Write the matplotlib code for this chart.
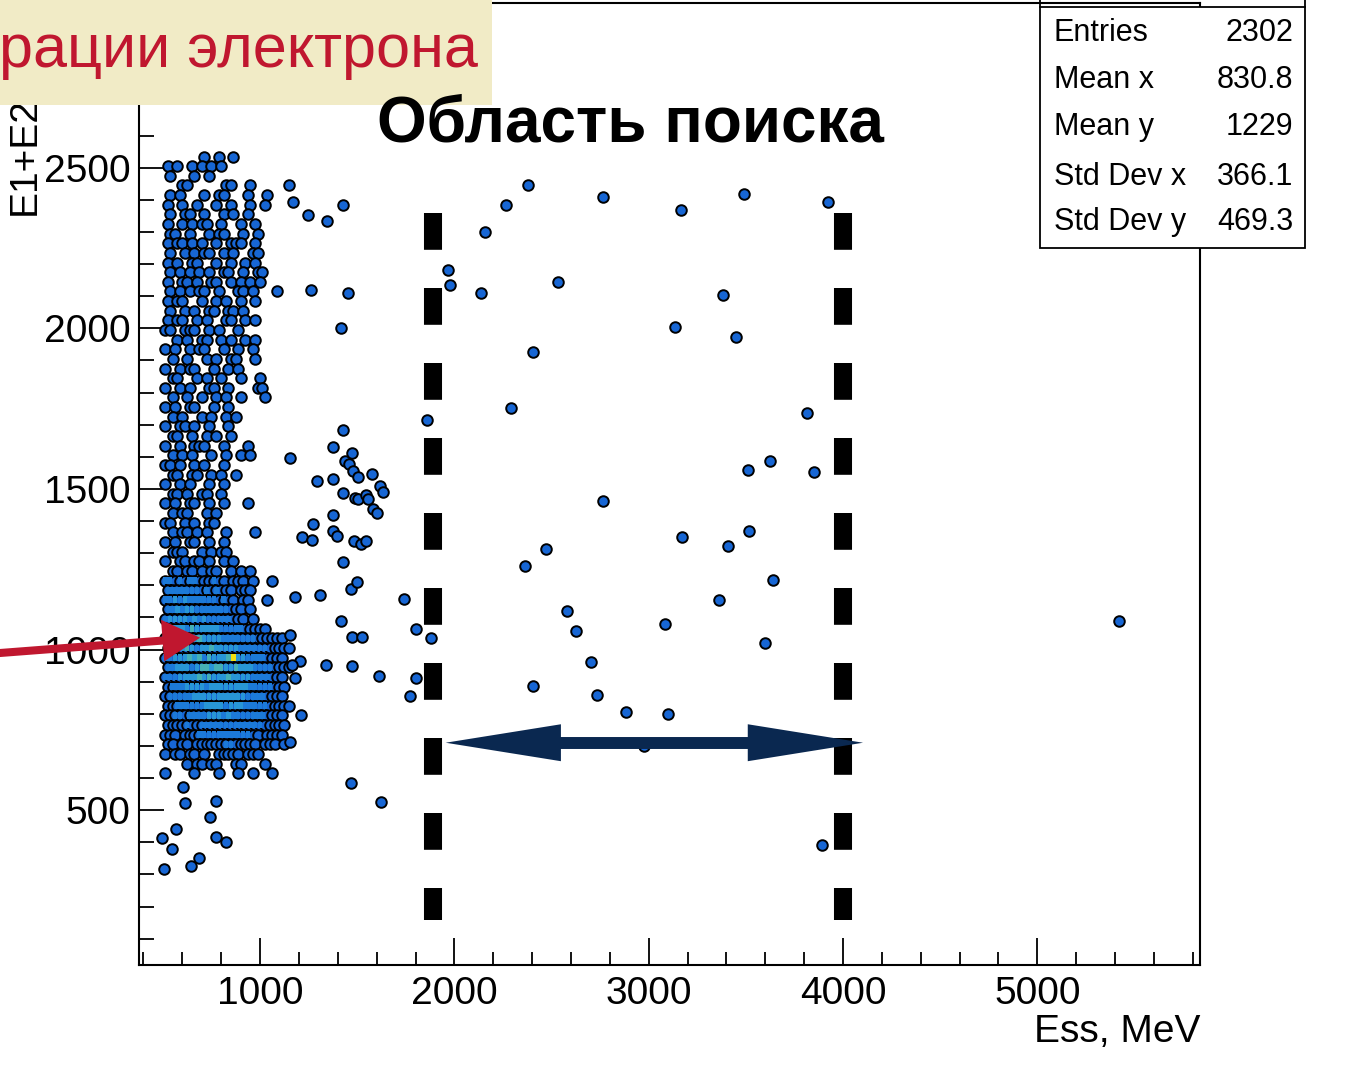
import numpy as np
import matplotlib
matplotlib.use('Agg')
import matplotlib.pyplot as plt
from matplotlib.patches import Rectangle, ArrowStyle
from matplotlib.lines import Line2D

plt.rcParams['font.family'] = ['Liberation Sans', 'DejaVu Sans']
plt.rcParams['lines.scale_dashes'] = False

W, H = 1367, 1066

# dense part of the scatter: 25 MeV x 30 MeV cells (odd rows shifted by half a cell),
# char = colour level, '.' = empty
cluster_x0 = 500.0
cluster_ytop = 2535.0
cell_w = 25.0
cell_h = 30.0
cluster_rows = [
    "........1..1..1",
    "1.1..1.1.1.1",
    ".1....1..1",
    "...11.......11...1.......1",
    ".1.1....1..11....1...1",
    "1..1..1...1..1...1..1",
    ".1..11..1...1.1..1",
    "1..1.1.11..1...1..1",
    ".11..1...1.11...1..1",
    "1.11.1.1..1..111..1",
    ".1..1.1.11..1.1...11",
    "1.1..11...1..1..1.1",
    ".1.1.1.1.1..11..1..11",
    "1..11.1..11..1.1.1.1",
    ".1.1.1.11..1...11.1....1",
    "1.11...1..1.1..1..1",
    ".1..1.1..11..11.1",
    "1.11..1.1...11..1.1",
    "11..111..1.1...1",
    "..1.1..11..1.1..1.1",
    "1.1..1.11...1..1..1",
    ".1..1...1.1..11...1",
    "1..1.11...1..1.1",
    ".11...1.1..1...1...1",
    "1..1.1...11..1.....11",
    ".1..1..1..1.1..1....1",
    "1.1..11...1..1",
    ".1.1...1.1..1.1",
    "1..11.1..1...1",
    ".11..1..1.1..1",
    "1..1..111...1....1",
    ".1.1.1...1..1..1.1",
    "11.1..1.1...1",
    ".11..11..1.1..1",
    "1..1.1...1..1",
    ".11.1..11..1",
    "1.1..11..1..1....1",
    ".1.11...1.1",
    "11..1.1..11",
    ".1.11.1.1...1.....1",
    "1.1..11..1..1",
    ".111...1.1.11",
    "1..11.11.1..1.1",
    ".11.11.1.11..1.1.1",
    "2212122111211.111.1...1",
    "22222221212111.111",
    "223232222221211.11...1",
    "2232332222222111.1",
    "23333232322222111.1",
    "233324333332222211111",
    "2333323433332222222111111",
    "23334323343333322222211111",
    "2233343424333453322221111",
    "22333234434433433322221111",
    "2223333434333433332222111",
    "1222333323333333322222111",
    "1222223333333333322221111",
    "11222222333323332222211111",
    "1122122223332322222221111",
    "1111211222222222222211111",
    "111.1112222222222211.1111",
    "11.11.1111112211111.111.1",
    "1.11.11.1..11111.111",
    "....1.11.11...11....1",
    "1.....1....1...1..1...1",
]

# isolated events (MeV)
far_x = [1170, 1247, 1345, 1428, 1263, 1454, 1418, 1428, 1376, 1438, 1474, 1459,
         1479, 1505, 1577, 1294, 1376, 1428, 1490, 1505, 1546, 1557, 1619, 1634,
         1582, 1603, 1155, 1376, 1273, 1216, 1268, 1376, 1397, 1485, 1521, 1546,
         1428, 1469, 1500, 1180, 1309, 1742, 1418, 1474, 1526, 1804, 1881, 1155,
         1206, 1165, 1180, 1340, 1474, 1613, 1804, 1773, 1211, 1155, 1469, 1624,
         1861, 1969, 1979, 2160, 2268, 2381, 2763, 3165, 3490, 3923, 2139, 2531,
         3381, 3134, 3448, 2407, 2289, 3814, 3510, 3624, 3851, 2763, 3170, 3515,
         3407, 2469, 2361, 3639, 2582, 3361, 2624, 3082, 3598, 2701, 2402, 2732,
         2881, 3098, 2974, 5418, 3892,
         603, 613, 773, 742, 567, 495, 773, 825, 546, 686, 644, 505]
far_y = [2394, 2354, 2335, 2385, 2120, 2111, 2002, 1685, 1632, 1588, 1613, 1579,
         1557, 1538, 1548, 1526, 1532, 1486, 1473, 1470, 1482, 1470, 1510, 1492,
         1439, 1426, 1598, 1420, 1392, 1352, 1342, 1370, 1355, 1339, 1330, 1339,
         1274, 1190, 1209, 1165, 1171, 1159, 1090, 1040, 1040, 1065, 1037, 1044,
         966, 953, 913, 953, 950, 919, 910, 854, 795, 711, 586, 524,
         1716, 2183, 2136, 2301, 2385, 2447, 2410, 2369, 2419, 2394, 2111, 2145,
         2105, 2005, 1974, 1927, 1753, 1738, 1560, 1588, 1554, 1464, 1349, 1370,
         1321, 1314, 1261, 1218, 1121, 1153, 1059, 1081, 1019, 960, 888, 860,
         807, 798, 701, 1090, 393,
         573, 523, 530, 480, 442, 414, 417, 402, 380, 352, 327, 318]

stats_names = ['Entries', 'Mean x', 'Mean y', 'Std Dev x', 'Std Dev y']
stats_values = ['2302', '830.8', '1229', '366.1', '469.3']

window_lo, window_hi = 1890, 4000
window_ymin, window_ymax = 158, 2360
span_y = 710
span_x = (1955, 4103)
electron_tip = (691, 1037)

level_colors = {1: '#1766d4', 2: '#1c7ad8', 3: '#2896d6', 4: '#45b0b4', 5: '#f2e010'}

cx, cy, cl = [], [], []
for r, row in enumerate(cluster_rows):
    for c, ch in enumerate(row):
        if ch != '.':
            cx.append(cluster_x0 + cell_w * (c + 0.5 + 0.5 * (r % 2)))
            cy.append(cluster_ytop - cell_h * r)
            cl.append(int(ch))
cx, cy, cl = np.array(cx), np.array(cy), np.array(cl)


def fx(px):
    return px / W


def fy(py):
    return 1 - py / H


fig = plt.figure(figsize=(W / 100, H / 100), dpi=100)
ax = fig.add_axes([fx(139), fy(965), (1200 - 139) / W, (965 - 3) / H])
ax.set_xlim(377, 5837)
ax.set_ylim(18, 3013)

# markers
ax.scatter(np.concatenate([cx, far_x]), np.concatenate([cy, far_y]), s=58,
           c=level_colors[1], edgecolors='black', linewidths=1.4, zorder=3)
# colz bins of the dense core drawn over the markers
hot = cl >= 2
ax.bar(cx[hot], 0.7 * cell_h, width=0.9 * cell_w, bottom=cy[hot] - 0.35 * cell_h,
       color=[level_colors[v] for v in cl[hot]], linewidth=0, zorder=4)

# search window
for xv in (window_lo, window_hi):
    ax.plot([xv, xv], [window_ymax, window_ymin], color='black', lw=13,
            linestyle=(0, (26.5, 27.5)), solid_capstyle='butt',
            dash_capstyle='butt', zorder=5)

navy = '#0a2850'
ax.annotate('', xy=(span_x[1], span_y), xytext=(span_x[0], span_y),
            arrowprops=dict(arrowstyle=ArrowStyle('<|-|>', head_length=8.3, head_width=1.33),
                            mutation_scale=10, color=navy, lw=0,
                            shrinkA=0, shrinkB=0), zorder=6)
ax.plot([span_x[0] + 450, span_x[1] - 450], [span_y, span_y], color=navy, lw=8.6,
        solid_capstyle='butt', zorder=6)

red = '#c0172f'
ax.annotate('', xy=electron_tip, xytext=(0, H - 653), textcoords='figure pixels',
            arrowprops=dict(arrowstyle=ArrowStyle('-|>', head_length=2.7, head_width=1.5),
                            mutation_scale=10, color=red, lw=0,
                            shrinkA=0, shrinkB=0), annotation_clip=False, zorder=7)
ax.annotate('', xy=electron_tip, xytext=(0, H - 653), textcoords='figure pixels',
            arrowprops=dict(arrowstyle='-', color=red, lw=5.8,
                            shrinkA=0, shrinkB=18), annotation_clip=False, zorder=7)

# axes cosmetics, ROOT-like
for s in ax.spines.values():
    s.set_linewidth(1.5)
ax.set_xticks([1000, 2000, 3000, 4000, 5000])
ax.set_xticks(np.arange(400, 5801, 200), minor=True)
ax.set_yticks([500, 1000, 1500, 2000, 2500])
ax.set_yticks(np.arange(100, 3001, 100), minor=True)
ax.tick_params(axis='both', which='both', direction='in', width=1.3,
               top=False, right=False, labelsize=28)
ax.tick_params(axis='x', which='major', length=19.5, pad=8)
ax.tick_params(axis='x', which='minor', length=9.5)
ax.tick_params(axis='y', which='major', length=18, pad=6)
ax.tick_params(axis='y', which='minor', length=11)

fig.text(fx(1200), fy(1032), 'Ess, MeV', ha='right', va='center', fontsize=28)
fig.text(fx(25), fy(215), 'E1+E2', rotation=90, ha='center', va='bottom',
         fontsize=28)

# stats box
fig.patches.append(Rectangle((fx(1040), fy(248)), (1305 - 1040) / W, (248 - 7) / H,
                             transform=fig.transFigure, facecolor='white',
                             edgecolor='black', lw=1.3, zorder=8))
for xp in (1040, 1305):
    fig.add_artist(Line2D([fx(xp), fx(xp)], [fy(7), 1], color='black', lw=1.3, zorder=8))
for i, (nm, val) in enumerate(zip(stats_names, stats_values)):
    yy = [33, 80, 127, 177, 222][i]
    fig.text(fx(1054), fy(yy), nm, ha='left', va='center', fontsize=22, zorder=9)
    fig.text(fx(1293), fy(yy), val, ha='right', va='center', fontsize=22, zorder=9)

# slide caption overlay
fig.patches.append(Rectangle((0, fy(105)), 492 / W, 105 / H, transform=fig.transFigure,
                             facecolor='#f1ebc6', edgecolor='none', zorder=10))
fig.text(fx(478), fy(52), 'рации электрона', ha='right', va='center',
         fontsize=44, color=red, zorder=11)

fig.text(fx(630), fy(142), 'Область поиска', ha='center', va='baseline',
         fontsize=46, fontweight='bold', zorder=12)

fig.savefig('out.png', dpi=100)
